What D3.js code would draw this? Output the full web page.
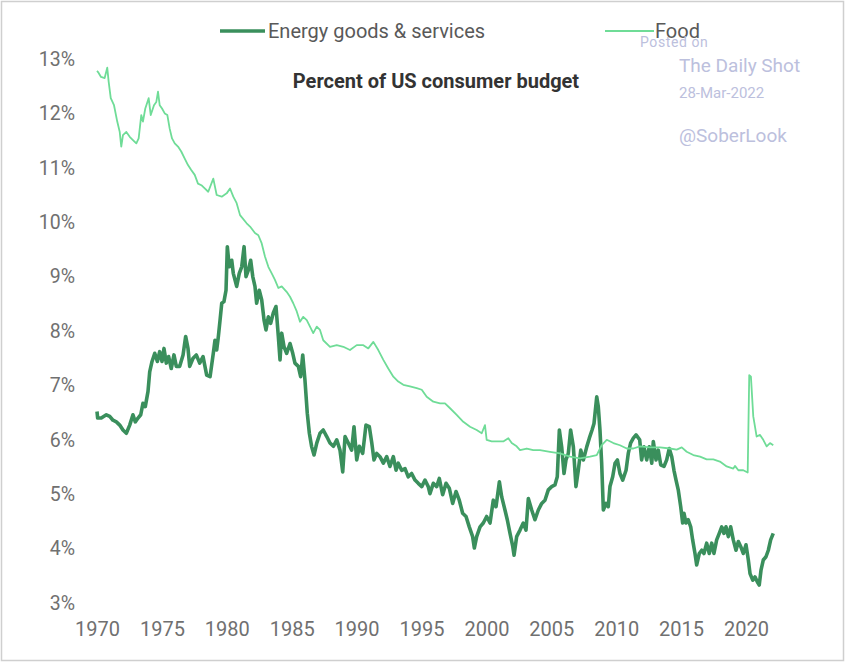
<!DOCTYPE html>
<html>
<head>
<meta charset="utf-8">
<script src="https://cdn.jsdelivr.net/npm/d3@7"></script>
<style>
  html, body { margin: 0; padding: 0; background: #fff; }
  svg { display: block; font-family: Roboto, "Noto Sans", sans-serif; }
</style>
</head>
<body>
<svg id="chart" width="846" height="663"></svg>
<script>
// ---- data ----
const seriesNames = ["Energy goods & services", "Food"];
const chartTitle = "Percent of US consumer budget";
const xTickYears = [1970, 1975, 1980, 1985, 1990, 1995, 2000, 2005, 2010, 2015, 2020];
const yTickValues = [3, 4, 5, 6, 7, 8, 9, 10, 11, 12, 13];

const foodYears = [1970.00,1970.08,1970.31,1970.59,1970.79,1970.90,1971.06,1971.31,1971.56,1971.75,1971.87,1972.00,1972.26,1972.52,1972.77,1973.03,1973.21,1973.41,1973.54,1973.72,1973.98,1974.14,1974.39,1974.57,1974.70,1974.83,1975.01,1975.22,1975.42,1975.60,1975.78,1975.99,1976.24,1976.49,1976.76,1977.01,1977.26,1977.53,1977.78,1978.04,1978.30,1978.57,1978.96,1979.22,1979.61,1979.99,1980.25,1980.50,1980.76,1981.02,1981.53,1981.79,1982.17,1982.43,1982.69,1982.94,1983.20,1983.46,1983.71,1983.97,1984.23,1984.61,1984.87,1985.12,1985.39,1985.64,1985.89,1986.16,1986.41,1986.66,1986.93,1987.18,1987.43,1987.95,1988.47,1988.98,1989.49,1990.01,1990.52,1990.90,1991.29,1991.67,1992.06,1992.44,1992.83,1993.21,1993.60,1994.11,1994.63,1995.02,1995.40,1995.91,1996.43,1996.81,1997.20,1997.71,1998.22,1998.74,1999.25,1999.64,1999.89,2000.02,2000.41,2000.79,2001.30,2001.69,2001.95,2002.33,2002.59,2003.11,2003.61,2004.13,2004.90,2005.67,2006.44,2007.21,2007.98,2008.50,2008.88,2009.27,2009.78,2010.29,2010.81,2011.32,2011.83,2012.60,2013.37,2014.14,2014.66,2015.05,2015.43,2015.94,2016.46,2016.97,2017.48,2017.99,2018.51,2019.02,2019.15,2019.41,2019.79,2020.13,2020.25,2020.38,2020.56,2020.82,2021.08,2021.33,2021.59,2021.85,2022.10];
const foodValues = [12.78,12.76,12.67,12.65,12.84,12.58,12.28,12.15,11.85,11.66,11.39,11.60,11.66,11.57,11.51,11.45,11.54,11.97,11.85,12.09,12.28,11.97,12.15,12.21,12.40,12.15,12.09,12.00,11.97,11.72,11.54,11.45,11.39,11.30,11.17,11.05,10.96,10.87,10.71,10.68,10.62,10.56,10.80,10.50,10.47,10.53,10.62,10.47,10.35,10.13,9.98,9.92,9.80,9.76,9.61,9.37,9.18,9.06,8.94,8.79,8.82,8.72,8.63,8.51,8.36,8.17,8.26,8.20,8.08,7.96,8.08,8.02,7.83,7.71,7.74,7.71,7.65,7.74,7.74,7.68,7.80,7.65,7.47,7.31,7.16,7.07,7.01,6.98,6.95,6.92,6.79,6.70,6.67,6.67,6.58,6.46,6.33,6.24,6.18,6.12,6.27,6.00,5.97,5.97,5.97,6.03,5.94,5.88,5.81,5.84,5.81,5.81,5.78,5.75,5.69,5.66,5.69,5.72,5.90,6.00,5.94,5.90,5.84,5.84,5.88,5.86,5.86,5.84,5.82,5.86,5.78,5.72,5.69,5.64,5.64,5.60,5.51,5.47,5.52,5.44,5.44,5.40,7.19,7.16,6.43,6.06,6.09,6.00,5.88,5.94,5.90];

const energyYears = [1970.00,1970.05,1970.33,1970.72,1970.98,1971.23,1971.49,1971.75,1972.00,1972.26,1972.52,1972.77,1972.95,1973.16,1973.37,1973.54,1973.72,1973.93,1974.06,1974.24,1974.45,1974.65,1974.83,1975.01,1975.16,1975.34,1975.52,1975.72,1975.93,1976.11,1976.37,1976.63,1976.83,1977.01,1977.14,1977.40,1977.65,1977.91,1978.17,1978.45,1978.71,1978.96,1979.09,1979.22,1979.35,1979.48,1979.61,1979.78,1979.94,1980.04,1980.19,1980.38,1980.50,1980.76,1980.96,1981.15,1981.33,1981.48,1981.66,1981.84,1982.00,1982.17,1982.30,1982.50,1982.69,1982.87,1983.02,1983.20,1983.38,1983.58,1983.79,1983.97,1984.10,1984.23,1984.41,1984.61,1984.87,1985.08,1985.25,1985.51,1985.69,1985.85,1986.02,1986.20,1986.36,1986.54,1986.72,1986.93,1987.18,1987.43,1987.70,1987.95,1988.21,1988.47,1988.72,1988.93,1989.11,1989.36,1989.62,1989.80,1990.01,1990.21,1990.47,1990.72,1990.98,1991.17,1991.34,1991.55,1991.80,1992.06,1992.32,1992.57,1992.83,1993.04,1993.21,1993.47,1993.73,1993.98,1994.24,1994.50,1994.75,1995.02,1995.27,1995.52,1995.65,1995.91,1996.17,1996.37,1996.63,1996.89,1997.14,1997.40,1997.66,1997.91,1998.17,1998.43,1998.68,1998.94,1999.07,1999.25,1999.51,1999.76,2000.02,2000.28,2000.53,2000.74,2001.00,2001.18,2001.43,2001.61,2001.82,2002.03,2002.13,2002.33,2002.59,2002.84,2003.05,2003.23,2003.49,2003.74,2004.00,2004.26,2004.51,2004.77,2005.03,2005.28,2005.46,2005.62,2005.80,2005.98,2006.13,2006.31,2006.49,2006.70,2006.90,2007.08,2007.27,2007.47,2007.73,2007.93,2008.14,2008.29,2008.50,2008.62,2008.75,2008.88,2009.01,2009.22,2009.39,2009.52,2009.73,2009.91,2010.09,2010.29,2010.50,2010.76,2010.93,2011.11,2011.32,2011.53,2011.81,2011.96,2012.14,2012.35,2012.55,2012.74,2012.86,2013.07,2013.24,2013.43,2013.68,2013.89,2014.09,2014.28,2014.45,2014.61,2014.78,2014.97,2015.12,2015.22,2015.38,2015.55,2015.74,2015.89,2016.07,2016.20,2016.40,2016.59,2016.76,2016.97,2017.17,2017.36,2017.53,2017.74,2017.94,2018.13,2018.30,2018.46,2018.64,2018.82,2019.02,2019.23,2019.41,2019.59,2019.79,2020.00,2020.18,2020.31,2020.52,2020.69,2020.87,2021.02,2021.16,2021.33,2021.54,2021.72,2021.90,2022.10];
const energyValues = [6.52,6.40,6.40,6.46,6.43,6.36,6.33,6.27,6.18,6.12,6.27,6.46,6.33,6.40,6.46,6.67,6.61,6.89,7.25,7.44,7.59,7.44,7.62,7.44,7.68,7.41,7.53,7.31,7.56,7.35,7.35,7.56,7.90,7.68,7.35,7.50,7.56,7.41,7.53,7.19,7.16,7.59,7.83,7.65,7.90,8.20,8.51,8.54,8.75,9.55,9.18,9.30,9.06,8.82,9.06,9.18,9.55,9.00,9.12,9.30,9.00,8.82,8.51,8.75,8.57,8.20,8.02,8.26,8.14,8.33,8.45,7.90,7.47,7.96,7.71,7.59,7.77,7.59,7.41,7.35,7.16,7.56,7.10,6.49,6.12,5.87,5.72,5.94,6.12,6.18,6.06,5.94,5.88,6.00,5.81,5.41,6.06,5.94,5.81,6.24,5.63,5.88,5.75,6.27,6.24,5.94,5.63,5.75,5.69,5.57,5.69,5.51,5.69,5.44,5.57,5.44,5.47,5.32,5.38,5.26,5.20,5.14,5.26,5.14,5.01,5.20,5.14,5.29,4.99,5.20,5.11,4.83,5.05,4.89,4.65,4.59,4.40,4.22,4.01,4.22,4.40,4.47,4.59,4.47,4.89,4.77,5.23,4.95,4.71,4.53,4.28,4.04,3.88,4.22,4.34,4.47,4.34,4.92,4.71,4.53,4.71,4.83,4.89,5.08,5.14,5.17,5.32,6.18,5.87,5.38,5.63,5.75,6.18,5.87,5.14,5.44,5.81,5.63,5.87,6.03,6.18,6.30,6.79,6.61,6.18,5.57,4.71,4.83,4.77,5.14,5.32,5.57,5.63,5.38,5.26,5.44,5.75,5.94,6.03,6.09,6.00,5.63,5.87,5.63,5.87,5.57,5.97,5.63,5.81,5.54,5.51,5.63,5.84,5.69,5.44,5.26,5.08,4.77,4.47,4.65,4.47,4.53,4.40,4.16,3.91,3.70,3.91,3.97,3.91,4.10,3.91,4.10,3.91,4.16,4.28,4.40,4.28,4.40,4.22,4.40,4.16,3.97,4.13,4.04,3.91,4.07,3.79,3.54,3.42,3.48,3.39,3.33,3.61,3.79,3.85,3.97,4.16,4.28];

// ---- chart ----
const svg = d3.select("#chart");
const W = 846, H = 663;

const x = d3.scaleLinear().domain([1970, 2020]).range([97, 746]);
const y = d3.scaleLinear().domain([3, 13]).range([603, 59]);

// frame
svg.append("rect").attr("x", 1.5).attr("y", 1.5).attr("width", W - 4).attr("height", H - 4)
  .attr("fill", "none").attr("stroke", "#cfcfcf").attr("stroke-width", 1.5);

// y axis (labels only)
const yAxis = d3.axisLeft(y).tickValues(yTickValues).tickSize(0).tickPadding(0)
  .tickFormat(d => d + "%");
const gy = svg.append("g").attr("transform", "translate(75,0)").call(yAxis);
gy.select(".domain").remove();
gy.selectAll("text").attr("font-family", "Roboto").attr("font-size", 19.5).attr("fill", "#707070");

// x axis (labels only)
const xAxis = d3.axisBottom(x).tickValues(xTickYears).tickSize(0).tickPadding(0)
  .tickFormat(d3.format("d"));
const gx = svg.append("g").attr("transform", "translate(0,622)").call(xAxis);
gx.select(".domain").remove();
gx.selectAll("text").attr("font-family", "Roboto").attr("font-size", 20).attr("fill", "#707070");

const energy = energyYears.map((t, i) => [t, energyValues[i]]);
const food = foodYears.map((t, i) => [t, foodValues[i]]);
const line = d3.line().x(d => x(d[0])).y(d => y(d[1])).curve(d3.curveLinear);

const energyColor = "#3a8f5c";
const foodColor = "#6fdc97";

svg.append("path").datum(energy).attr("d", line).attr("fill", "none")
  .attr("stroke", energyColor).attr("stroke-width", 3.6).attr("stroke-linejoin", "round");
svg.append("path").datum(food).attr("d", line).attr("fill", "none")
  .attr("stroke", foodColor).attr("stroke-width", 1.8).attr("stroke-linejoin", "round");

// title
svg.append("text").attr("x", 436).attr("y", 88).attr("text-anchor", "middle")
  .attr("font-family", "Roboto").attr("font-weight", "bold").attr("font-size", 20)
  .attr("fill", "#333").text(chartTitle);

// legend
const legend = svg.append("g");
legend.append("line").attr("x1", 220).attr("x2", 265).attr("y1", 31).attr("y2", 31)
  .attr("stroke", energyColor).attr("stroke-width", 3.5);
legend.append("text").attr("x", 268).attr("y", 38).attr("font-family", "Roboto")
  .attr("font-size", 20).attr("fill", "#595959").text(seriesNames[0]);
legend.append("line").attr("x1", 605).attr("x2", 654).attr("y1", 31).attr("y2", 31)
  .attr("stroke", foodColor).attr("stroke-width", 2);
legend.append("text").attr("x", 655).attr("y", 38).attr("font-family", "Roboto")
  .attr("font-size", 20).attr("fill", "#595959").text(seriesNames[1]);

// watermark
const wm = svg.append("g").attr("fill", "#bcc0dd").attr("font-family", "Roboto");
wm.append("text").attr("x", 640).attr("y", 47).attr("font-size", 14).attr("letter-spacing", 0.6).text("Posted on");
wm.append("text").attr("x", 679).attr("y", 72).attr("font-size", 19).text("The Daily Shot");
wm.append("text").attr("x", 679).attr("y", 98).attr("font-size", 15).text("28-Mar-2022");
wm.append("text").attr("x", 679).attr("y", 142).attr("font-size", 19).text("@SoberLook");
</script>
</body>
</html>
